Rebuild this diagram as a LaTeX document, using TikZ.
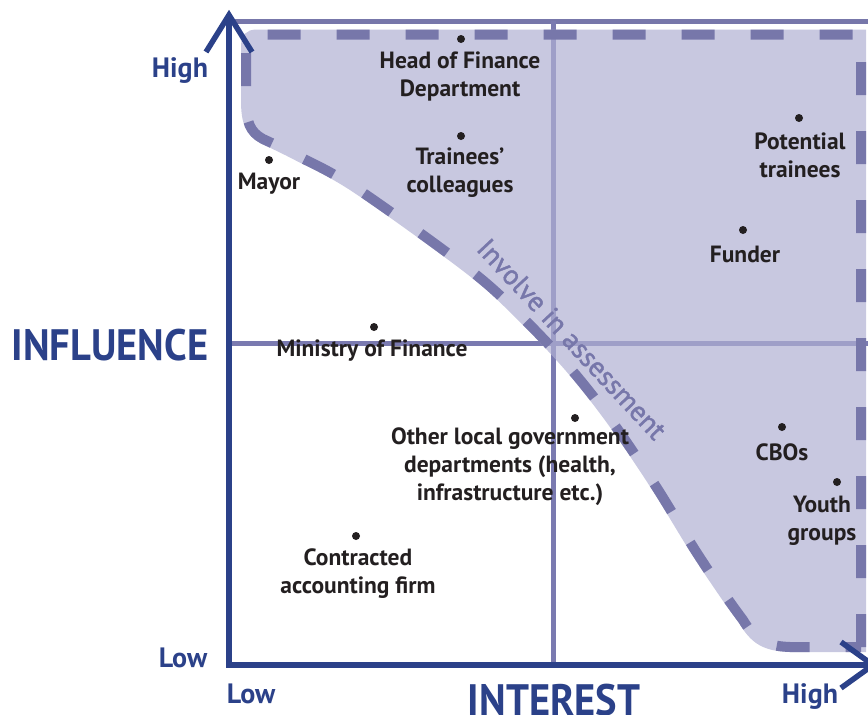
\documentclass[tikz,border=0pt]{standalone}
\usepackage{fontspec}
\setmainfont{PT Sans}
\newfontfamily\bigfont[FakeStretch=0.92]{PT Sans}
\newfontfamily\involvefont[FakeBold=1.5]{PT Sans}
\usetikzlibrary{calc}
\definecolor{axisblue}{RGB}{43,65,137}
\definecolor{dashpurple}{RGB}{119,119,170}
\definecolor{gridpurple}{RGB}{122,122,176}
\definecolor{shadefill}{RGB}{176,176,211}
\definecolor{labblack}{RGB}{35,31,32}
\begin{document}
\begin{tikzpicture}[x=1pt,y=-1pt,
  dot/.style={circle,fill=labblack,inner sep=0pt,minimum size=8pt},
  lab/.style={font=\bfseries\fontsize{23.5}{28}\selectfont,text=labblack,align=center,inner sep=0pt},
  axlab/.style={font=\bfseries\fontsize{28}{30}\selectfont,text=axisblue,inner sep=0pt,anchor=base},
  bigaxlab/.style={font=\bigfont\bfseries\fontsize{44}{48}\selectfont,text=axisblue,inner sep=0pt,anchor=base},
  axisline/.style={line width=5.5pt,draw=axisblue},
  gridline/.style={line width=5pt,draw=gridpurple},
  borderline/.style={line width=5pt,draw=dashpurple},
  regiondash/.style={line width=10pt,draw=dashpurple,dash pattern=on 33pt off 36pt},
  involvetext/.style={font=\involvefont\fontsize{28}{30}\selectfont,text=dashpurple,inner sep=0pt},
  ]
\useasboundingbox (0,0) rectangle (868,715);
\def\regionpath{(861,647) -- (861,34.5) -- (258,34.5) .. controls (248,34.5) and (246,38) .. (246,48) -- (246,100) .. controls (246,122) and (250,132) .. (263,139) -- plot[smooth, tension=0.55] coordinates {(263,139) (296,155) (356,188) (470,270) (522,317) (570,368) (611,420) (655,485) (695,550) (725,595) (743,620)} .. controls (755,640) and (765,646) .. (790,647) -- cycle}

% coordinates
\coordinate (O) at (229,665);
\coordinate (Ocorner) at (226.3,665);
\coordinate (Ytip) at (229,15);
\coordinate (Xtip) at (873,665);
\coordinate (TL) at (229,21);
\coordinate (TR) at (868,21);
\coordinate (VgT) at (553,21);
\coordinate (VgB) at (553,663);
\coordinate (HgL) at (229,343);
\coordinate (HgR) at (868,343);

% grid and border
\draw[borderline] (TL) -- (TR);
\draw[gridline] (VgT) -- (VgB);
\draw[gridline] (HgL) -- (HgR);

% shaded region
\begin{scope}[transparency group, opacity=0.7]
\fill[shadefill] \regionpath;
\draw[line width=10pt, draw=shadefill] \regionpath;
\end{scope}
\draw[regiondash] \regionpath;

% involve text
\node[involvetext, rotate=-47] (inv) at (572,339) {Involve in assessment};

% axes
\draw[axisline] (O) -- (Ytip);
\draw[axisline] (Ocorner) -- (Xtip);
\draw[axisline, line join=miter] (206,52) -- (Ytip) -- (252,52);
\coordinate (Xa1) at (841,642);
\coordinate (Xa2) at (841,688);
\draw[axisline, line join=miter] (Xa1) -- (Xtip) -- (Xa2);

% axis labels
\node[axlab] (hiY) at (180,77) {High};
\node[axlab] (loY) at (183,667) {Low};
\node[axlab] (loX) at (251,703) {Low};
\node[axlab] (hiX) at (810,703) {High};
\node[bigaxlab] (infl) at (110,360) {INFLUENCE};
\node[bigaxlab] (intr) at (554,715) {INTEREST};

% stakeholders
\node[dot] (d1) at (461,39) {};
\node[lab, anchor=north] (t1) at (460,52) {Head of Finance\\Department};
\node[dot] (d2) at (461,136) {};
\node[lab, anchor=north] (t2) at (460,148) {Trainees’\\colleagues};
\node[dot] (d3) at (269,160) {};
\node[lab, anchor=base] (t3) at (269,189) {Mayor};
\node[dot] (d4) at (374,327) {};
\node[lab, anchor=base] (t4) at (372,356) {Ministry of Finance};
\node[dot] (d5) at (575,418) {};
\node[lab, anchor=north] (t5) at (510,428) {Other local government\\departments (health,\\infrastructure etc.)};
\node[dot] (d6) at (356,536) {};
\node[lab, anchor=north] (t6) at (358,549) {Contracted\\accounting firm};
\node[dot] (d7) at (799,118) {};
\node[lab, anchor=north] (t7) at (800,133) {Potential\\trainees};
\node[dot] (d8) at (743,230) {};
\node[lab, anchor=base] (t8) at (745,262) {Funder};
\node[dot] (d9) at (782,427) {};
\node[lab, anchor=base] (t9) at (782,460) {CBOs};
\node[dot] (d10) at (837,482) {};
\node[lab, anchor=north] (t10) at (822,496) {Youth\\groups};
\end{tikzpicture}
\end{document}
